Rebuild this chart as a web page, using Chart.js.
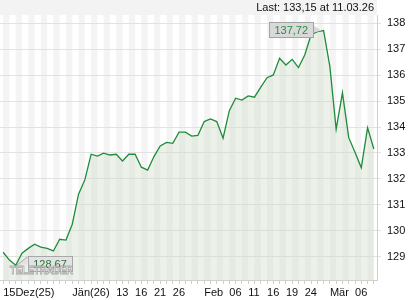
<!DOCTYPE html>
<html>
<head>
<meta charset="utf-8">
<script src="https://cdn.jsdelivr.net/npm/chart.js@4.4.1/dist/chart.umd.min.js"></script>
<style>
  html, body { margin: 0; padding: 0; background: #ffffff; }
  #wrap { width: 420px; height: 300px; position: relative; }
</style>
</head>
<body>
<div id="wrap"><canvas id="c" width="420" height="300"></canvas></div>
<script>
// ---- data ----
const dates = [
  '15.12.25','16.12.25','17.12.25','18.12.25','19.12.25','22.12.25','23.12.25','24.12.25','29.12.25','30.12.25','31.12.25',
  '02.01.26','05.01.26','06.01.26','07.01.26','08.01.26','09.01.26','12.01.26','13.01.26','14.01.26','15.01.26','16.01.26',
  '19.01.26','20.01.26','21.01.26','22.01.26','23.01.26','26.01.26','27.01.26','28.01.26','29.01.26','30.01.26',
  '02.02.26','03.02.26','04.02.26','05.02.26','06.02.26','09.02.26','10.02.26','11.02.26','12.02.26','13.02.26',
  '16.02.26','17.02.26','18.02.26','19.02.26','20.02.26','23.02.26','24.02.26','25.02.26','26.02.26','27.02.26',
  '02.03.26','03.03.26','04.03.26','05.03.26','06.03.26','09.03.26','10.03.26','11.03.26'
];
const prices = [
  129.17, 128.87, 128.67, 129.13, 129.32, 129.48, 129.37, 129.32, 129.22, 129.67, 129.64,
  130.25, 131.41, 131.96, 132.95, 132.88, 132.99, 132.92, 132.95, 132.69, 132.95, 132.95,
  132.45, 132.34, 132.86, 133.27, 133.41, 133.37, 133.80, 133.80, 133.65, 133.68,
  134.21, 134.31, 134.21, 133.57, 134.63, 135.11, 135.04, 135.20, 135.15, 135.54,
  135.90, 136.01, 136.65, 136.39, 136.61, 136.29, 136.78, 137.55, 137.68, 137.72,
  136.33, 133.92, 135.32, 133.59, 133.03, 132.43, 133.97, 133.15
];
const xTickLabels = [
  '15Dez(25)','','','','','','','','','','',
  'Jän(26)','','','','','','','13','','','16',
  '','','21','','','26','','','','',
  'Feb','','','','06','','','11','','',
  '16','','','19','','','24','','','',
  'Mär','','','','06','','',''
];
const yTicks = [129, 130, 131, 132, 133, 134, 135, 136, 137, 138];
const highLabel = '137,72';
const lowLabel = '128,67';
const lastText = 'Last: 133,15 at 11.03.26';
const watermark = 'TELETRADER';

const FONT = '"Liberation Sans", Arial, sans-serif';

const decorPlugin = {
  id: 'decor',
  beforeDraw(chart) {
    const { ctx, chartArea: a, scales: { x } } = chart;
    ctx.save();
    // top band
    ctx.fillStyle = '#f3f3f3';
    ctx.fillRect(0, 0, a.right, a.top);
    // alternating stripes between points
    ctx.fillStyle = '#f4f4f4';
    for (let i = 0; i < dates.length - 1; i += 2) {
      const x0 = x.getPixelForValue(i);
      const x1 = x.getPixelForValue(i + 1);
      ctx.fillRect(x0, a.top, x1 - x0, a.bottom - a.top);
    }
    ctx.restore();
  },
  afterDatasetsDraw(chart) {
    const { ctx, chartArea: a, scales: { x, y } } = chart;
    ctx.save();
    ctx.font = '11px ' + FONT;
    // header text
    ctx.fillStyle = '#111';
    ctx.textAlign = 'right';
    ctx.textBaseline = 'middle';
    ctx.fillText(lastText, a.right - 3, 7.5);

    // high annotation
    let hi = 0, lo = 0;
    prices.forEach((v, i) => { if (v > prices[hi]) hi = i; if (v < prices[lo]) lo = i; });
    const hx = x.getPixelForValue(hi), hy = y.getPixelForValue(prices[hi]);
    let tw = ctx.measureText(highLabel).width;
    let bw = tw + 10, bh = 15;
    let bx = hx - 11 - bw, by = hy - 8.5;
    ctx.fillStyle = '#d9d9d9';
    ctx.strokeStyle = '#a3a3a3';
    ctx.lineWidth = 1;
    ctx.beginPath();
    ctx.moveTo(bx + bw, by + 3);
    ctx.lineTo(hx - 2, hy);
    ctx.lineTo(bx + bw, by + 11);
    ctx.closePath();
    ctx.fill();
    ctx.fillRect(Math.round(bx) + 0.5, Math.round(by) + 0.5, Math.round(bw), bh);
    ctx.strokeRect(Math.round(bx) + 0.5, Math.round(by) + 0.5, Math.round(bw), bh);
    ctx.fillStyle = '#239140';
    ctx.textAlign = 'center';
    ctx.fillText(highLabel, bx + bw / 2 + 0.5, by + bh / 2 + 1);

    // low annotation
    const lx = x.getPixelForValue(lo), ly = y.getPixelForValue(prices[lo]);
    tw = ctx.measureText(lowLabel).width;
    bw = tw + 10; bh = 15;
    bx = lx + 12; by = ly - 9;
    ctx.fillStyle = 'rgba(225,225,225,0.85)';
    ctx.strokeStyle = '#a8a8a8';
    ctx.beginPath();
    ctx.moveTo(lx + 1, ly);
    ctx.lineTo(bx, by + 0.5);
    ctx.lineTo(bx, by + 8);
    ctx.closePath();
    ctx.fill();
    ctx.beginPath();
    ctx.moveTo(lx + 1, ly);
    ctx.lineTo(bx, by + 0.5);
    ctx.stroke();
    ctx.fillRect(Math.round(bx) + 0.5, Math.round(by) + 0.5, Math.round(bw), bh);
    ctx.strokeRect(Math.round(bx) + 0.5, Math.round(by) + 0.5, Math.round(bw), bh);
    ctx.fillStyle = '#2f6f3a';
    ctx.fillText(lowLabel, bx + bw / 2 + 0.5, by + bh / 2 + 1);

    // watermark
    ctx.font = 'bold 11px ' + FONT;
    const ww = ctx.measureText(watermark).width;
    ctx.translate(a.left + 10, a.bottom - 9.5);
    ctx.scale(63 / ww, 1.05);
    ctx.textAlign = 'left';
    ctx.fillStyle = 'rgba(255,255,255,0.75)';
    ctx.strokeStyle = 'rgba(150,150,150,0.8)';
    ctx.lineWidth = 0.9;
    ctx.fillText(watermark, 0, 0);
    ctx.strokeText(watermark, 0, 0);
    ctx.restore();
  }
};

new Chart(document.getElementById('c'), {
  type: 'line',
  data: {
    labels: dates,
    datasets: [{
      data: prices,
      borderColor: '#1f8c3c',
      borderWidth: 1.3,
      backgroundColor: 'rgba(205,222,200,0.38)',
      fill: 'start',
      pointRadius: 0,
      tension: 0
    }]
  },
  options: {
    responsive: false,
    animation: false,
    devicePixelRatio: 1,
    layout: { padding: { top: 15, left: 0, right: 0, bottom: 0 } },
    plugins: { legend: { display: false }, tooltip: { enabled: false }, title: { display: false } },
    scales: {
      x: {
        type: 'category',
        offset: true,
        grid: { display: true, drawOnChartArea: false, drawTicks: true, tickLength: 4, color: '#cfcfcf', offset: false },
        border: { display: true, color: '#d0d0d0' },
        ticks: {
          autoSkip: false, maxRotation: 0, minRotation: 0, align: 'start', padding: 2,
          color: '#111', font: { family: FONT, size: 11 },
          callback: (v, i) => xTickLabels[i]
        },
        afterFit: s => { s.height = 20; }
      },
      y: {
        position: 'right',
        min: 128.1,
        max: 138.32,
        afterBuildTicks: s => { s.ticks = yTicks.map(v => ({ value: v })); },
        grid: { color: '#e2e2e2', tickLength: 4, drawTicks: true },
        border: { display: true, color: '#d0d0d0' },
        ticks: { color: '#111', padding: 6, font: { family: FONT, size: 11 } },
        afterFit: s => { s.width = 43; }
      }
    }
  },
  plugins: [decorPlugin]
});
</script>
</body>
</html>
